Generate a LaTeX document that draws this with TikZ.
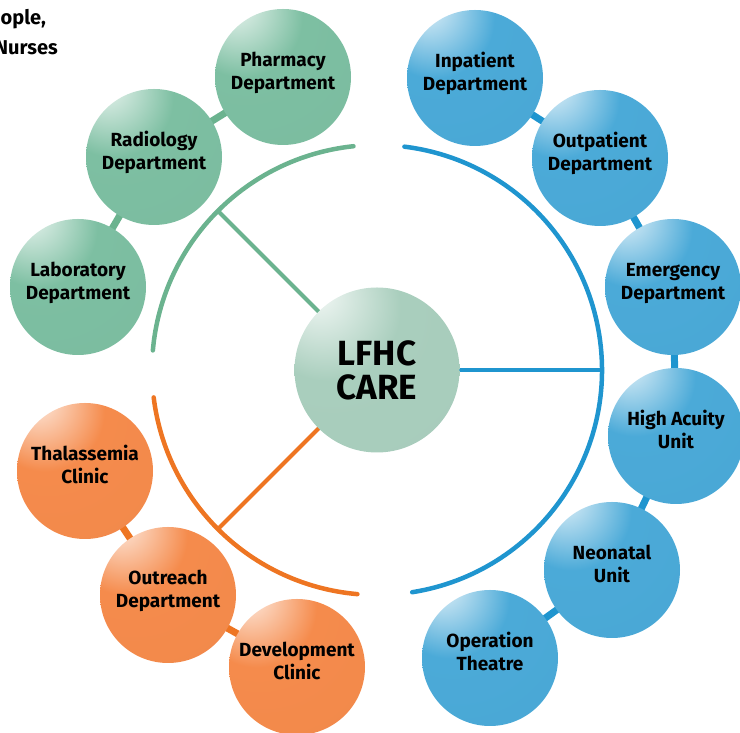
\documentclass[tikz,border=0pt]{standalone}
\usepackage{fontspec}
\setmainfont{Fira Sans}
\definecolor{gbase}{HTML}{7DBFA2}
\definecolor{cbase}{HTML}{A9CEBD}
\definecolor{bbase}{HTML}{4BAAD8}
\definecolor{obase}{HTML}{F58B4C}
\definecolor{garccol}{HTML}{6BB38F}
\definecolor{barccol}{HTML}{1F95CF}
\definecolor{oarccol}{HTML}{EE7522}
\pgfdeclareradialshading{gshade}{\pgfpoint{-19bp}{28bp}}{color(0bp)=(white); color(3bp)=(white!75!gbase); color(22bp)=(gbase); color(100bp)=(gbase!96!black)}
\pgfdeclareradialshading{bshade}{\pgfpoint{-19bp}{28bp}}{color(0bp)=(white); color(3bp)=(white!75!bbase); color(22bp)=(bbase); color(100bp)=(bbase!96!black)}
\pgfdeclareradialshading{oshade}{\pgfpoint{-19bp}{28bp}}{color(0bp)=(white); color(3bp)=(white!75!obase); color(22bp)=(obase); color(100bp)=(obase!96!black)}
\pgfdeclareradialshading{cshade}{\pgfpoint{-19bp}{24bp}}{color(0bp)=(white); color(3bp)=(white!75!cbase); color(22bp)=(cbase); color(100bp)=(cbase!97!black)}
\pgfdeclarelayer{bg}
\pgfsetlayers{bg,main}
\newcommand\liftup[1]{\raisebox{0pt}[\height][\dimexpr\depth+7pt\relax]{\begin{tabular}{@{}c@{}}#1\end{tabular}}}
\tikzset{
  sat/.style={circle, inner sep=0pt, minimum size=136pt, text=black,
    font=\fontsize{19}{23}\selectfont\bfseries},
  gnode/.style={sat, shading=gshade},
  bnode/.style={sat, shading=bshade},
  onode/.style={sat, shading=oshade},
  glink/.style={draw=garccol, line width=7pt},
  blink/.style={draw=barccol, line width=7pt},
  olink/.style={draw=oarccol, line width=7pt},
  garc/.style={draw=garccol, line width=4.5pt, line cap=round},
  barc/.style={draw=barccol, line width=4.5pt, line cap=round},
  oarc/.style={draw=oarccol, line width=4.5pt, line cap=round},
  toptext/.style={font=\fontsize{20}{24}\selectfont\bfseries, text=black, inner sep=0pt}
}
\begin{document}
\begin{tikzpicture}[x=1pt,y=1pt]
\useasboundingbox (0,0) rectangle (740,733);
\clip (0,0) rectangle (740,733);

% top-left partial text
\node[toptext, anchor=base west] (t1) at (0.5,708) {ople,};
\node[toptext, anchor=base east] (t2) at (58,678) {Nurses};

% center
\node[circle, inner sep=0pt, minimum size=165pt, shading=cshade, align=center,
      font=\fontsize{35}{34}\selectfont\bfseries] (c) at (377,363) {LFHC\\CARE};

% green nodes
\node[gnode] (ph) at (283,656) {\liftup{Pharmacy\\Department}};
\node[gnode] (ra) at (154,576) {\liftup{Radiology\\Department}};
\node[gnode] (la) at (78,446) {\liftup{Laboratory\\Department}};

% blue nodes
\node[bnode] (ip) at (475,655) {\liftup{Inpatient\\Department}};
\node[bnode] (op) at (600,575) {\liftup{Outpatient\\Department}};
\node[bnode] (em) at (673,446) {\liftup{Emergency\\Department}};
\node[bnode] (ha) at (676,297) {\liftup{High Acuity\\Unit}};
\node[bnode] (ne) at (612,163) {\liftup{Neonatal\\Unit}};
\node[bnode] (ot) at (490,75) {\liftup{Operation\\Theatre}};

% orange nodes
\node[onode] (th) at (85,262) {\liftup{Thalassemia\\Clinic}};
\node[onode] (or) at (168,138) {\liftup{Outreach\\Department}};
\node[onode] (dv) at (297,66) {\liftup{Development\\Clinic}};

\coordinate (gs) at ([shift={(135:225)}]c.center);
\coordinate (bs) at ([shift={(0:225)}]c.center);
\coordinate (os) at ([shift={(225:225)}]c.center);

\begin{pgfonlayer}{bg}
  \draw[glink] (ph.center) -- (ra.center) -- (la.center);
  \draw[blink] (ip.center) -- (op.center) -- (em.center) -- (ha.center) -- (ne.center) -- (ot.center);
  \draw[olink] (th.center) -- (or.center) -- (dv.center);
  \draw[garc] ([shift={(96:225)}]c.center) arc[start angle=96, end angle=175, radius=225];
  \draw[barc] ([shift={(-81:225)}]c.center) arc[start angle=-81, end angle=83, radius=225];
  \draw[oarc] ([shift={(187:225)}]c.center) arc[start angle=187, end angle=265, radius=225];
  \draw[draw=garccol, line width=4pt] (c.center) -- (gs);
  \draw[draw=barccol, line width=4pt] (c.center) -- (bs);
  \draw[draw=oarccol, line width=4pt] (c.center) -- (os);
\end{pgfonlayer}
\end{tikzpicture}
\end{document}
